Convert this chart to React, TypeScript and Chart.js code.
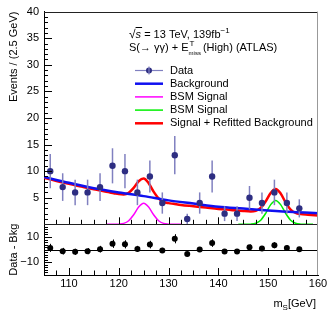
import React, { useEffect, useRef } from 'react';
import { Chart, registerables } from 'chart.js';

Chart.register(...registerables);

const FONT = '"Liberation Sans", Arial, Helvetica, sans-serif';

// ---- data ----
const binCenters = [106.25, 108.75, 111.25, 113.75, 116.25, 118.75, 121.25, 123.75, 126.25, 128.75, 131.25,
  133.75, 136.25, 138.75, 141.25, 143.75, 146.25, 148.75, 151.25, 153.75, 156.25];
const dataCounts = [10, 7, 6, 6, 7, 11, 10, 6, 9, 4, 13, 1, 4, 9, 2, 2, 5, 4, 6, 4, 3];
const dataErrors = [3.2, 2.6, 2.4, 2.4, 2.6, 3.3, 3.2, 2.4, 3.0, 2.0, 3.6, 1.0, 2.0, 3.0, 1.4, 1.4, 2.2, 2.0, 2.4, 2.0, 1.7];
const residuals = [1.4, -1.2, -1.7, -1.2, 0.4, 4.7, 4.2, 0.6, 4.0, -0.6, 8.6, -3.5, 0.1, 5.2, -1.4, -1.4, 1.9, 0.9, 3.5, 1.4, 0.4];

const bkgX = [105, 110, 115, 120, 125, 130, 135, 140, 145, 150, 155, 160];
const bkgY = [8.9, 7.8, 6.8, 6.0, 5.3, 4.5, 3.9, 3.3, 2.95, 2.6, 2.3, 2.1];

const magentaX = [117.5, 119, 120, 121, 122, 123, 124, 125, 126, 127, 128, 129, 130, 131, 132.5];
const magentaY = [0, 0, 0.03, 0.17, 0.68, 1.8, 3.24, 3.95, 3.24, 1.8, 0.68, 0.17, 0.03, 0, 0];

const greenX = [144, 145.5, 146.5, 147.5, 148.5, 149.5, 150.5, 151.5, 152.5, 153.5, 154.5, 155.5, 156.5, 157.5, 159];
const greenY = [0, 0, 0.03, 0.2, 0.78, 2.07, 3.7, 4.5, 3.7, 2.07, 0.78, 0.2, 0.03, 0, 0];

const redX = [105, 107.5, 110, 112.5, 115, 117.5, 119, 120, 121, 122, 123, 124, 125, 126, 127, 128, 129, 130, 131,
  132.5, 135, 137.5, 140, 142.5, 145, 146.5, 147.5, 148.5, 149.5, 150.5, 151.5, 152.5, 153.5, 154.5, 155.5, 156.5, 158, 160];
const redY = [8.75, 8.15, 7.6, 7.1, 6.6, 6.1, 5.85, 5.68, 5.62, 5.93, 6.85, 8.09, 8.6, 7.74, 6.15, 4.88, 4.22, 3.98, 3.85,
  3.65, 3.4, 3.15, 2.9, 2.7, 2.5, 2.43, 2.55, 3.08, 4.32, 5.9, 6.65, 5.8, 4.12, 2.78, 2.15, 1.93, 1.8, 1.65];

const xTickLabels = [110, 120, 130, 140, 150, 160];
const mainYTicks = [5, 10, 15, 20, 25, 30, 35, 40];
const resYTicks = [-10, 0, 10];

const legendItems = [
  { label: 'Data', color: '#8080c0', marker: true, width: 1.2 },
  { label: 'Background', color: '#1010f0', width: 2.5 },
  { label: 'BSM Signal', color: '#ff00ff', width: 1.5 },
  { label: 'BSM Signal', color: '#00f000', width: 1.5 },
  { label: 'Signal + Refitted Background', color: '#ff0000', width: 2.5 },
];

const toXY = (xs: number[], ys: number[]) => xs.map((x, i) => ({ x, y: ys[i] }));

function runs(ctx: CanvasRenderingContext2D, x: number, y: number, parts: { t: string; size: number; dy?: number; italic?: boolean }[]) {
  for (const p of parts) {
    ctx.font = `${p.italic ? 'italic ' : ''}${p.size}px ${FONT}`;
    ctx.fillText(p.t, x, y + (p.dy || 0));
    x += ctx.measureText(p.t).width;
  }
  return x;
}

const overlay = {
  id: 'overlay',
  beforeDatasetsDraw(chart: any) {
    const { ctx, chartArea: ca } = chart;
    const yr = chart.scales.yr;
    ctx.save();
    ctx.strokeStyle = '#000';
    ctx.lineWidth = 1;
    const p0 = Math.round(yr.getPixelForValue(0)) + 0.5;
    ctx.beginPath();
    ctx.moveTo(ca.left, p0);
    ctx.lineTo(ca.right, p0);
    ctx.stroke();
    ctx.restore();
  },
  beforeDatasetDraw(chart: any, args: any) {
    const { ctx } = chart;
    const xs = chart.scales.x;
    if (args.index === 0) {
      const ys = chart.scales.y;
      ctx.save();
      ctx.strokeStyle = '#8080c0';
      ctx.lineWidth = 1.5;
      binCenters.forEach((c, i) => {
        const px = xs.getPixelForValue(c);
        ctx.beginPath();
        ctx.moveTo(px, ys.getPixelForValue(dataCounts[i] - dataErrors[i]));
        ctx.lineTo(px, ys.getPixelForValue(dataCounts[i] + dataErrors[i]));
        ctx.stroke();
      });
      ctx.restore();
    }
    if (args.index === 1) {
      const ys = chart.scales.yr;
      ctx.save();
      ctx.strokeStyle = '#000';
      ctx.lineWidth = 1;
      binCenters.forEach((c, i) => {
        const px = Math.round(xs.getPixelForValue(c)) + 0.5;
        ctx.beginPath();
        ctx.moveTo(px, ys.getPixelForValue(residuals[i] - dataErrors[i]));
        ctx.lineTo(px, ys.getPixelForValue(residuals[i] + dataErrors[i]));
        ctx.stroke();
      });
      ctx.restore();
    }
  },
  afterDraw(chart: any) {
    const { ctx, chartArea: ca } = chart;
    const xs = chart.scales.x, ys = chart.scales.y, yr = chart.scales.yr;
    ctx.save();
    ctx.strokeStyle = '#000';
    ctx.lineWidth = 1;
    const line = (x1: number, y1: number, x2: number, y2: number) => {
      ctx.beginPath(); ctx.moveTo(x1, y1); ctx.lineTo(x2, y2); ctx.stroke();
    };
    // main y ticks
    for (let v = 1; v < 40; v += 1) {
      const py = Math.round(ys.getPixelForValue(v)) + 0.5;
      line(ca.left, py, ca.left + (v % 5 === 0 ? 8 : 4), py);
    }
    for (let v = -18; v <= 18; v += 2) {
      const py = Math.round(yr.getPixelForValue(v)) + 0.5;
      line(ca.left, py, ca.left + (v % 10 === 0 ? 8 : 4), py);
    }
    for (let v = 107.5; v < 160; v += 2.5) {
      const px = Math.round(xs.getPixelForValue(v)) + 0.5;
      const len = v % 10 === 0 ? 7 : 4.5;
      line(px, ys.bottom, px, ys.bottom - len);
      line(px, yr.bottom, px, yr.bottom - len);
    }
    // frame
    ctx.strokeStyle = '#222';
    line(ca.left, Math.round(ys.top) + 0.5, ca.right, Math.round(ys.top) + 0.5);
    line(ca.left, Math.round(ys.bottom) + 0.5, ca.right, Math.round(ys.bottom) + 0.5);
    ctx.strokeStyle = '#999';
    line(Math.round(ca.right) - 0.5, ys.top, Math.round(ca.right) - 0.5, yr.bottom);

    // header text
    ctx.fillStyle = '#000';
    ctx.textBaseline = 'alphabetic';
    ctx.textAlign = 'left';
    let x = runs(ctx, 129, 38, [{ t: '\u221A', size: 12 }]);
    const sx = x;
    x = runs(ctx, x, 38, [{ t: 's', size: 11, italic: true }]);
    ctx.strokeStyle = '#000';
    line(sx, 27.5, x + 1, 27.5);
    x = runs(ctx, x, 38, [{ t: ' = 13 TeV, 139fb', size: 11 }, { t: '\u22121', size: 8, dy: -5 }]);

    x = runs(ctx, 129, 51, [{ t: 'S(\u2192 \u03B3\u03B3) + E', size: 11 }]);
    ctx.font = `8px ${FONT}`;
    ctx.fillText('T', x + 1, 46);
    ctx.font = `6px ${FONT}`;
    ctx.fillText('miss', x, 55);
    const mw = ctx.measureText('miss').width;
    runs(ctx, x + mw + 2, 51, [{ t: '(High) (ATLAS)', size: 11 }]);

    // legend
    legendItems.forEach((it, i) => {
      const cy = 70.5 + i * 13.2;
      ctx.strokeStyle = it.color;
      ctx.lineWidth = it.width;
      line(135, cy, 163, cy);
      if (it.marker) {
        ctx.fillStyle = '#2e2e82';
        ctx.beginPath(); ctx.arc(149, cy, 3, 0, Math.PI * 2); ctx.fill();
        ctx.strokeStyle = '#8080c0';
        ctx.lineWidth = 1.2;
        line(149, cy - 4, 149, cy + 4);
      }
      ctx.fillStyle = '#000';
      ctx.font = `11px ${FONT}`;
      ctx.textBaseline = 'middle';
      ctx.fillText(it.label, 170, cy);
    });

    // x axis title m_S[GeV]
    ctx.textBaseline = 'alphabetic';
    ctx.font = `11px ${FONT}`;
    const w1 = ctx.measureText('m').width;
    const w3 = ctx.measureText('[GeV]').width;
    ctx.font = `8px ${FONT}`;
    const w2 = ctx.measureText('S').width;
    const endX = 316;
    const startX = endX - w1 - w2 - w3;
    runs(ctx, startX, 307, [{ t: 'm', size: 11 }, { t: 'S', size: 8, dy: 3 }, { t: '[GeV]', size: 11 }]);
    ctx.restore();
  },
};

export default function App() {
  const ref = useRef<HTMLCanvasElement | null>(null);
  useEffect(() => {
    if (!ref.current) return;
    Chart.defaults.font.family = FONT;
    Chart.defaults.color = '#000';
    const chart = new Chart(ref.current, {
      type: 'scatter',
      data: {
        datasets: [
          {
            type: 'scatter', label: 'Data', data: toXY(binCenters, dataCounts), xAxisID: 'x', yAxisID: 'y',
            pointRadius: 3.2, pointBackgroundColor: '#2e2e82', pointBorderWidth: 0, pointBorderColor: '#2e2e82',
          },
          {
            type: 'scatter', label: 'Data - Bkg', data: toXY(binCenters, residuals), xAxisID: 'x', yAxisID: 'yr',
            pointRadius: 3, pointBackgroundColor: '#000', pointBorderWidth: 0,
          },
          {
            type: 'line', label: 'Background', data: toXY(bkgX, bkgY), xAxisID: 'x', yAxisID: 'y',
            borderColor: '#1010f0', borderWidth: 2.5, pointRadius: 0, cubicInterpolationMode: 'monotone', fill: false,
          },
          {
            type: 'line', label: 'Signal + Refitted Background', data: toXY(redX, redY), xAxisID: 'x', yAxisID: 'y',
            borderColor: '#ff0000', borderWidth: 2.5, pointRadius: 0, cubicInterpolationMode: 'monotone', fill: false,
          },
          {
            type: 'line', label: 'BSM Signal (green)', data: toXY(greenX, greenY), xAxisID: 'x', yAxisID: 'y',
            borderColor: '#00f000', borderWidth: 1.5, pointRadius: 0, cubicInterpolationMode: 'monotone', fill: false,
          },
          {
            type: 'line', label: 'BSM Signal', data: toXY(magentaX, magentaY), xAxisID: 'x', yAxisID: 'y',
            borderColor: '#ff00ff', borderWidth: 1.5, pointRadius: 0, cubicInterpolationMode: 'monotone', fill: false,
          },
        ],
      },
      options: {
        animation: false,
        responsive: false,
        events: [],
        layout: { padding: { top: 10, right: 15, left: 0, bottom: 0 } },
        plugins: { legend: { display: false }, tooltip: { enabled: false } },
        scales: {
          x: {
            type: 'linear', position: 'bottom', min: 105, max: 160,
            afterBuildTicks: (s: any) => { s.ticks = xTickLabels.map((v) => ({ value: v })); },
            afterFit: (s: any) => { s.height = 39; },
            grid: { display: false, drawTicks: false },
            border: { display: true, color: '#000' },
            ticks: { color: '#000', font: { size: 11 }, padding: 2, maxRotation: 0 },
          },
          yr: {
            type: 'linear', position: 'left', stack: 'panels', stackWeight: 51, min: -20, max: 20,
            afterBuildTicks: (s: any) => { s.ticks = resYTicks.map((v) => ({ value: v })); },
            afterFit: (s: any) => { s.width = 44; },
            grid: { display: false, drawTicks: false },
            border: { display: true, color: '#000' },
            ticks: { color: '#000', font: { size: 11 }, padding: 5, callback: (v: any) => (v < 0 ? '\u2212' + Math.abs(v) : String(v)) },
            title: { display: true, text: 'Data - Bkg', align: 'center', color: '#000', font: { size: 11 }, padding: { top: 7, bottom: 0 } },
          },
          y: {
            type: 'linear', position: 'left', stack: 'panels', stackWeight: 214, min: 0, max: 40,
            afterBuildTicks: (s: any) => { s.ticks = mainYTicks.map((v) => ({ value: v })); },
            afterFit: (s: any) => { s.width = 44; },
            grid: { display: false, drawTicks: false },
            border: { display: true, color: '#000' },
            ticks: { color: '#000', font: { size: 11 }, padding: 5 },
            title: { display: true, text: 'Events / (2.5 GeV)', align: 'end', color: '#000', font: { size: 11 }, padding: { top: 7, bottom: 0 } },
          },
        },
      } as any,
      plugins: [overlay as any],
    });
    return () => chart.destroy();
  }, []);
  return (
    <div style={{ position: 'absolute', left: 0, top: 0, width: 333, height: 314, background: '#fff' }}>
      <canvas ref={ref} width={333} height={314} style={{ display: 'block', width: 333, height: 314 }} />
    </div>
  );
}
